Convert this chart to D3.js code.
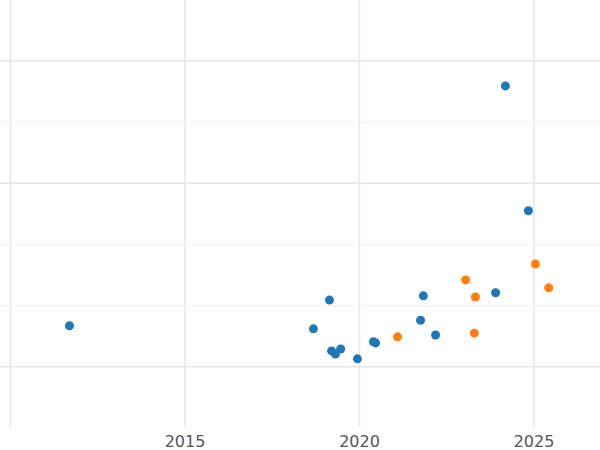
<!DOCTYPE html>
<html>
<head>
<meta charset="utf-8">
<script src="https://cdn.jsdelivr.net/npm/d3@7"></script>
<style>
body{margin:0;background:#fff;}
</style>
</head>
<body>
<div id="chart"></div>
<script>
// data
const blueYears = [2011.69,2018.68,2019.14,2019.20,2019.31,2019.46,2019.94,2020.40,2020.46,2021.75,2021.83,2022.18,2023.90,2024.18,2024.84];
const blueValues = [1.67,1.62,2.09,1.26,1.21,1.29,1.13,1.41,1.39,1.76,2.16,1.52,2.21,5.59,3.55];
const orangeYears = [2021.09,2023.04,2023.32,2023.29,2025.04,2025.42];
const orangeValues = [1.49,2.42,2.14,1.55,2.68,2.29];
const xTicks = [2010,2015,2020,2025];
const yMajor = [1,4,6];
const yMinor = [2,3,5];

const width = 600, height = 450;
const svg = d3.select('#chart').append('svg')
	.attr('width',width)
	.attr('height',height);

const scaleX = d3.scaleLinear().domain([2010,2027]).range([10.5,603.8]);
const scaleY = d3.scaleLinear().domain([0,7]).range([428,-0.4]);

//grid
svg.selectAll('.vgrid').data(xTicks).enter().append('line')
	.attr('x1',d=>scaleX(d)).attr('x2',d=>scaleX(d))
	.attr('y1',0).attr('y2',427)
	.style('stroke','#e6e6e6').style('stroke-width',1.5);
svg.selectAll('.hmaj').data(yMajor).enter().append('line')
	.attr('x1',0).attr('x2',width)
	.attr('y1',d=>scaleY(d)).attr('y2',d=>scaleY(d))
	.style('stroke','#e6e6e6').style('stroke-width',1.5);
svg.selectAll('.hmin').data(yMinor).enter().append('line')
	.attr('x1',0).attr('x2',width)
	.attr('y1',d=>scaleY(d)).attr('y2',d=>scaleY(d))
	.style('stroke','#f0f0f0').style('stroke-width',1);

//tick labels
svg.selectAll('.tick').data(xTicks.slice(1)).enter().append('text')
	.attr('x',d=>scaleX(d)).attr('y',447)
	.attr('text-anchor','middle')
	.style('font-family','DejaVu Sans, sans-serif')
	.style('font-size','16px')
	.style('fill','#555')
	.text(d=>d);

//points
const blue = blueYears.map((y,i)=>({x:y,v:blueValues[i]}));
const orange = orangeYears.map((y,i)=>({x:y,v:orangeValues[i]}));
svg.selectAll('.blue').data(blue).enter().append('circle')
	.attr('cx',d=>scaleX(d.x)).attr('cy',d=>scaleY(d.v))
	.attr('r',4.5).style('fill','#1f77b4');
svg.selectAll('.orange').data(orange).enter().append('circle')
	.attr('cx',d=>scaleX(d.x)).attr('cy',d=>scaleY(d.v))
	.attr('r',4.5).style('fill','#ff7f0e');
</script>
</body>
</html>
